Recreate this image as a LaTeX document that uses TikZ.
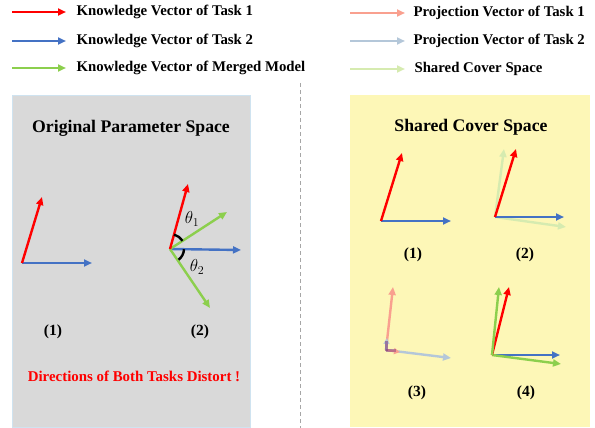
\documentclass[tikz,border=0pt]{standalone}
\usepackage{fontspec}
\setmainfont{Liberation Serif}
\usetikzlibrary{arrows.meta,calc}
\definecolor{cred}{HTML}{FF0000}
\definecolor{cblue}{HTML}{4472C4}
\definecolor{cgreen}{HTML}{8CCF4D}
\definecolor{pred}{HTML}{F9A08F}
\definecolor{pblue}{HTML}{B4C7D9}
\definecolor{pgreen}{HTML}{D6EBB0}
\definecolor{panelgray}{HTML}{D9D9D9}
\definecolor{panelyellow}{HTML}{FDF7B7}
\definecolor{panelborder}{HTML}{CFE3F0}
\tikzset{
  vec/.style={line width=2.4pt,-{Triangle[length=8pt,width=7pt]}},
  svec/.style={line width=2.2pt,-{Triangle[length=6pt,width=6pt]}},
  legtext/.style={anchor=west,font=\bfseries\fontsize{14.8}{16}\selectfont},
  title/.style={font=\bfseries\fontsize{17.7}{20}\selectfont},
  lab/.style={font=\bfseries\fontsize{15.5}{17}\selectfont},
  anglearc/.style={line width=2.4pt,black},
}
\begin{document}
\begin{tikzpicture}[x=1pt,y=-1pt]
\useasboundingbox (0,0) rectangle (595,428);
% panels
\fill[panelgray,draw=panelborder,line width=0.6pt] (12,95) rectangle (250,427);
\fill[panelyellow] (350,95) rectangle (590,427);
\draw[gray!70,line width=0.8pt,dash pattern=on 4pt off 3pt] (300,83) -- (300,428);

% legend left
\coordinate (l1a) at (12,12); \coordinate (l1b) at (66,12);
\coordinate (l2a) at (12,41); \coordinate (l2b) at (66,41);
\coordinate (l3a) at (12,68); \coordinate (l3b) at (66,68);
\draw[vec,cred] (l1a) -- (l1b);
\draw[vec,cblue] (l2a) -- (l2b);
\draw[vec,cgreen] (l3a) -- (l3b);
\node[legtext] (t1) at (73,12) {Knowledge Vector of Task 1};
\node[legtext] (t2) at (73,41) {Knowledge Vector of Task 2};
\node[legtext] (t3) at (73,68) {Knowledge Vector of Merged Model};
% legend right
\coordinate (r1a) at (350,13); \coordinate (r1b) at (405,13);
\coordinate (r2a) at (350,41); \coordinate (r2b) at (405,41);
\coordinate (r3a) at (350,69); \coordinate (r3b) at (405,69);
\draw[vec,pred] (r1a) -- (r1b);
\draw[vec,pblue] (r2a) -- (r2b);
\draw[vec,pgreen] (r3a) -- (r3b);
\node[legtext] (u1) at (410,13) {Projection Vector of Task 1};
\node[legtext] (u2) at (410,41) {Projection Vector of Task 2};
\node[legtext] (u3) at (411,69) {Shared Cover Space};

% titles
\node[title] (tl) at (131,128) {Original Parameter Space};
\node[title] (tr) at (471,127) {Shared Cover Space};

% left (1)
\coordinate (o1) at (22,263);
\coordinate (a1r) at (42,197);
\coordinate (a1b) at (92,263);
\draw[vec,cblue] (o1) -- (a1b);
\draw[vec,cred] (o1) -- (a1r);
\node[lab] (n1) at (53,332) {(1)};

% left (2)
\coordinate (o2) at (170,249);
\coordinate (a2r) at (188,184);
\coordinate (a2g1) at (227,212);
\coordinate (a2b) at (241,250);
\coordinate (a2g2) at (210,308);
\draw[vec,cblue] (o2) -- (a2b);
\draw[vec,cgreen] (o2) -- (a2g1);
\draw[vec,cgreen] (o2) -- (a2g2);
\draw[vec,cred] (o2) -- (a2r);
\draw[anglearc] ($(o2)!15pt!(a2r)$) arc[start angle=74.5,end angle=33,radius=15pt];
\draw[anglearc] ($(o2)!14pt!(a2b)$) arc[start angle=-2,end angle=-52,radius=14pt];
\node (th1) at (192,219) {\fontsize{17}{18}\selectfont$\theta_1$};
\node (th2) at (197,267) {\fontsize{17}{18}\selectfont$\theta_2$};
\node[lab] (n2) at (200,332) {(2)};

\node[font=\bfseries\fontsize{14.9}{16}\selectfont,text=cred] (warn) at (134,376) {Directions of Both Tasks Distort !};

% right (1)
\coordinate (p1) at (381,221);
\coordinate (b1r) at (402,153);
\coordinate (b1b) at (451,221);
\draw[vec,cblue] (p1) -- (b1b);
\draw[vec,cred] (p1) -- (b1r);
\node[lab] (m1) at (413,255) {(1)};

% right (2)
\coordinate (p2) at (495,217);
\coordinate (b2r) at (516,149);
\coordinate (b2b) at (564,217);
\coordinate (b2g1) at (504,149);
\coordinate (b2g2) at (566,227);
\draw[vec,pgreen] (p2) -- (b2g1);
\draw[vec,pgreen] (p2) -- (b2g2);
\draw[vec,cblue] (p2) -- (b2b);
\draw[vec,cred] (p2) -- (b2r);
\node[lab] (m2) at (525,255) {(2)};

% right (3)
\coordinate (p3) at (386,350);
\coordinate (b3r) at (393,287);
\coordinate (b3b) at (451,358);
\coordinate (b3bs) at (387,338);
\coordinate (b3rs) at (400,352);
\draw[vec,pblue] (p3) -- (b3b);
\draw[vec,pred] (p3) -- (b3r);
\draw[svec,pred] (p3) -- (b3rs);
\draw[svec,pblue,opacity=0.9] (p3) -- (b3bs);
\fill[violet!50!gray,opacity=0.6] (384.5,341) rectangle (388,351);
\fill[violet!50!gray,opacity=0.5] (386,348.5) rectangle (396,351.5);
\node[lab] (m3) at (417,393) {(3)};

% right (4)
\coordinate (p4) at (492,355);
\coordinate (b4g1) at (499,287);
\coordinate (b4r) at (509,287);
\coordinate (b4b) at (560,355);
\coordinate (b4g2) at (561,364);
\draw[vec,cblue] (p4) -- (b4b);
\draw[vec,cgreen] (p4) -- (b4g2);
\draw[vec,cred] (p4) -- (b4r);
\draw[vec,cgreen] (p4) -- (b4g1);
\node[lab] (m4) at (526,393) {(4)};
\end{tikzpicture}
\end{document}
